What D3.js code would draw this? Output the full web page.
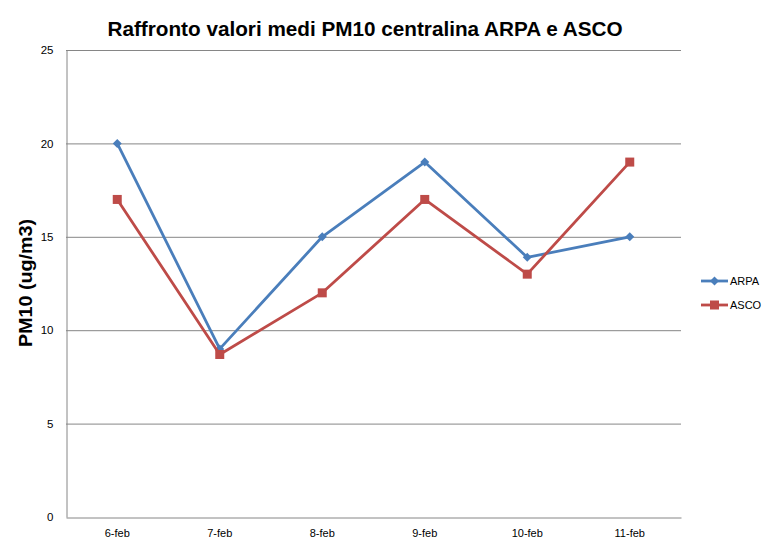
<!DOCTYPE html>
<html><head><meta charset="utf-8">
<script src="https://cdn.jsdelivr.net/npm/d3@7"></script>
<style>body{margin:0;background:#fff}svg{display:block}text{font-family:"Liberation Sans",Arial,sans-serif}</style>
</head><body>
<svg id="c" width="774" height="545"></svg>
<script>
const categories = ["6-feb","7-feb","8-feb","9-feb","10-feb","11-feb"];
const arpa = [20, 9, 15, 19, 13.9, 15];
const asco = [17, 8.7, 12, 17, 13, 19];
const yTicks = [0,5,10,15,20,25];
const seriesNames = ["ARPA","ASCO"];
const colors = ["#4a7ebb","#be4b48"];

const svg = d3.select("#c");
const pLeft = 66, pRight = 681, pTop = 50, pBottom = 517;
const x = d3.scaleBand().domain(categories).range([pLeft, pRight]);
const y = d3.scaleLinear().domain([0,25]).range([pBottom, pTop]);

// gridlines
svg.append("g").selectAll("line").data(yTicks.filter(d=>d>0)).join("line")
  .attr("x1", pLeft).attr("x2", pRight)
  .attr("y1", d=>y(d)+0.5).attr("y2", d=>y(d)+0.5)
  .attr("stroke","#868686").attr("stroke-width",1);

// y axis
const ya = svg.append("g").attr("transform",`translate(${pLeft+0.5},0)`)
  .call(d3.axisLeft(y).tickValues(yTicks).tickSize(0).tickPadding(13));
ya.select(".domain").attr("stroke","#868686");
ya.selectAll("text").attr("font-size",11.5).attr("fill","#000");

// x axis
const xa = svg.append("g").attr("transform",`translate(0,${pBottom+0.5})`)
  .call(d3.axisBottom(x).tickSize(0).tickPadding(12));
xa.select(".domain").attr("stroke","#868686");
xa.selectAll("text").attr("font-size",11).attr("fill","#000");

const line = d3.line().x((d,i)=>x(categories[i])+x.bandwidth()/2).y(d=>y(d));
const data = [arpa, asco];
data.forEach((vals, s) => {
  svg.append("path").datum(vals).attr("d", line)
    .attr("fill","none").attr("stroke",colors[s]).attr("stroke-width",2.8)
    .attr("stroke-linejoin","round");
  const g = svg.append("g");
  vals.forEach((v,i)=>{
    const cx = x(categories[i])+x.bandwidth()/2, cy = y(v);
    if (s===0) {
      g.append("path").attr("d",`M${cx},${cy-4.5}L${cx+4.5},${cy}L${cx},${cy+4.5}L${cx-4.5},${cy}Z`).attr("fill",colors[s]);
    } else {
      g.append("rect").attr("x",cx-4.5).attr("y",cy-4.5).attr("width",9).attr("height",9).attr("fill",colors[s]);
    }
  });
});

// legend
seriesNames.forEach((n,s)=>{
  const ly = 281 + s*24;
  svg.append("line").attr("x1",701).attr("x2",728).attr("y1",ly).attr("y2",ly)
    .attr("stroke",colors[s]).attr("stroke-width",2.8);
  const cx = 714.5;
  if (s===0) svg.append("path").attr("d",`M${cx},${ly-4.5}L${cx+4.5},${ly}L${cx},${ly+4.5}L${cx-4.5},${ly}Z`).attr("fill",colors[s]);
  else svg.append("rect").attr("x",cx-4.5).attr("y",ly-4.5).attr("width",9).attr("height",9).attr("fill",colors[s]);
  svg.append("text").attr("x",730).attr("y",ly+4).attr("font-size",11).text(n);
});

// title
svg.append("text").attr("x",365).attr("y",36).attr("text-anchor","middle")
  .attr("font-size",20).attr("font-weight","bold")
  .attr("textLength",515).attr("lengthAdjust","spacingAndGlyphs")
  .text("Raffronto valori medi PM10 centralina ARPA e ASCO");

// y title
svg.append("text").attr("transform","translate(32,283) rotate(-90)")
  .attr("text-anchor","middle").attr("font-size",19).attr("font-weight","bold")
  .attr("textLength",128).attr("lengthAdjust","spacingAndGlyphs")
  .text("PM10 (ug/m3)");
</script>
</body></html>
